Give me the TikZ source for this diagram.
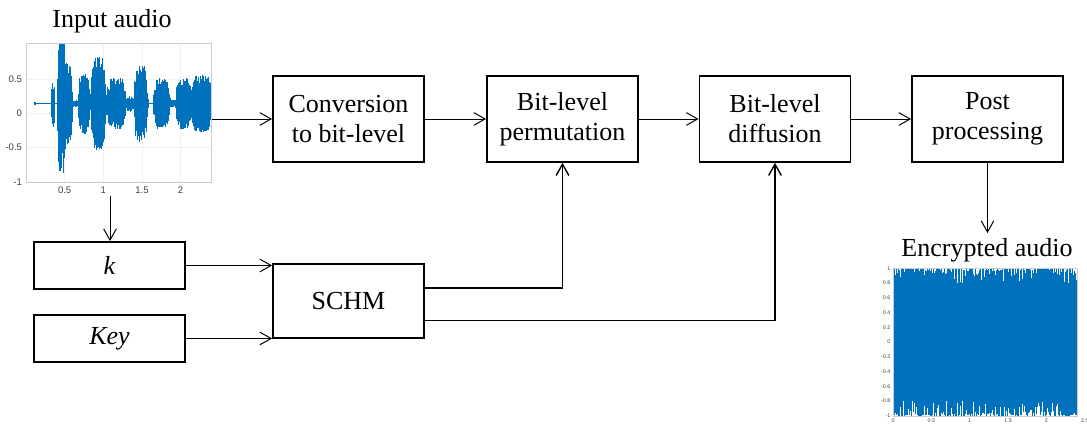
\documentclass[tikz,border=0pt]{standalone}
\usepackage{fontspec}
\setmainfont{Liberation Serif}
\newfontfamily\ticksfont{Liberation Sans}
\usetikzlibrary{arrows.meta,positioning}

\definecolor{wave}{RGB}{0,114,189}

\tikzset{
  block/.style={draw, line width=1.1pt, minimum width=3.78cm, minimum height=2.15cm,
    align=center, font=\fontsize{18.5}{21.3}\selectfont},
  keyblock/.style={block, minimum height=1.18cm},
  link/.style={-{Straight Barb[length=8pt,width=9pt]}, line width=0.7pt},
  keylink/.style={link, line width=1pt},
  title/.style={anchor=base, font=\fontsize{18.5}{21.3}\selectfont},
  grid/.style={gray!12, line width=0.3pt},
  axisbox/.style={gray!40, line width=0.4pt},
  ticklbl/.style={inner sep=1pt, text=black!75, font=\ticksfont\fontsize{6.8}{7}\selectfont},
  smalltick/.style={inner sep=0.6pt, text=black!75, font=\ticksfont\fontsize{3.8}{4}\selectfont},
}

\begin{document}
\begin{tikzpicture}[x=0.025cm, y=-0.025cm]
  \useasboundingbox (0,0) rectangle (1087,426);
  \pgfmathsetseed{11}

  % -- Input waveform --
  \node[title] (intitle) at (112,28) {Input audio};
  \begin{scope}[shift={(26,113.3)}, xscale=77.3, yscale=-68.7]
    \foreach \g in {0.5,1,1.5,2} \draw[grid] (\g,-1) -- (\g,1.02);
    \foreach \g in {-0.5,0,0.5} \draw[grid] (0,\g) -- (2.4,\g);
    \begin{scope}
      \clip (0,-1) rectangle (2.4,1.02);
      \draw[wave, line width=0.5pt] (0.11,0.14) -- (2.4,0.14);
      \foreach \a/\b/\h in {0.11/0.13/0.03, 0.33/0.37/0.35, 0.40/0.52/1.1, 0.50/0.60/0.6,
          0.60/0.67/0.05, 0.67/0.83/0.45, 0.83/1.04/0.68, 1.03/1.30/0.38, 1.30/1.39/0.12,
          1.39/1.58/0.56, 1.64/1.87/0.38, 1.87/1.93/0.06, 1.93/2.15/0.38, 2.12/2.42/0.42} {
        \pgfmathtruncatemacro\n{(\b-\a)*300}
        \foreach \i in {0,...,\n} {
          \pgfmathsetmacro\xx{\a+(\b-\a)*\i/\n}
          \pgfmathsetmacro\ss{1-min(1,abs(sin(180*\i/\n)))}
          \pgfmathsetmacro\ee{\h*(1-\ss*\ss*\ss)}
          \pgfmathsetmacro\lo{0.14-\ee*(0.5+0.5*rnd)}
          \pgfmathsetmacro\hi{0.14+\ee*(0.5+0.5*rnd)}
          \draw[wave, line width=0.5pt] (\xx,\lo) -- (\xx,\hi);
        }
      }
    \end{scope}
    \draw[axisbox] (0,-1) rectangle (2.4,1.02);
    \foreach \v in {0.5,0,-0.5,-1} \node[ticklbl, anchor=east] at (-0.03,\v) {\v};
    \foreach \v in {0.5,1,1.5,2} \node[ticklbl, anchor=north] at (\v,-1.04) {\v};
  \end{scope}

  % -- Encrypted waveform --
  \node[title] (enctitle) at (987,257) {Encrypted audio};
  \begin{scope}[shift={(893,342)}, xscale=76.7, yscale=-73.8]
    \fill[wave] (0,-0.8) rectangle (2.4,0.8);
    \foreach \i in {0,...,300} {
      \pgfmathsetmacro\xx{\i*0.008}
      \pgfmathsetmacro\hi{1-0.22*rnd^3}
      \pgfmathsetmacro\lo{-1+0.22*rnd^3}
      \draw[wave, line width=0.55pt] (\xx,0.79) -- (\xx,\hi);
      \draw[wave, line width=0.55pt] (\xx,-0.79) -- (\xx,\lo);
    }
    \draw[axisbox] (0,-1) rectangle (2.4,1);
    \foreach \v in {1,0.8,0.6,0.4,0.2,0,-0.2,-0.4,-0.6,-0.8,-1}
      \node[smalltick, anchor=east] at (-0.02,\v) {\v};
    \foreach \v in {0,0.5,1,1.5,2,2.5}
      \node[smalltick, anchor=north] at (\v,-1.02) {\v};
  \end{scope}

  % -- Processing chain --
  \node[block] (conv) at (348.5,119) {Conversion\\to bit-level};
  \node[block] (perm) at (562.5,119) {Bit-level\\permutation};
  \node[block] (diff) at (775,119) {Bit-level\\diffusion};
  \node[block] (post) at (987.5,119) {Post\\processing};

  % -- Key generation --
  \node[keyblock] (kbox) at (109.5,265.5) {\textit{k}};
  \node[keyblock] (keybox) at (109.5,338.5) {\textit{Key}};
  \node[block, minimum height=1.85cm] (schm) at (348.5,301) {SCHM};

  \coordinate (inright) at (212,119);
  \coordinate (inbottom) at (110,196);
  \coordinate (enctop) at (987.5,233);

  % Connectors
  \draw[link] (inright) -- (conv.west);
  \draw[link] (conv) -- (perm);
  \draw[link] (perm) -- (diff);
  \draw[link] (diff) -- (post);
  \draw[link] (post.south) -- (enctop);
  \draw[link] (inbottom) -- (inbottom |- kbox.north);
  \draw[link] (kbox.east) -- (kbox.east -| schm.west);
  \draw[link] (keybox.east) -- (keybox.east -| schm.west);
  \draw[keylink] ([yshift=0.32cm]schm.east) -| (perm.south);
  \draw[keylink] ([yshift=-0.485cm]schm.east) -| (diff.south);

\end{tikzpicture}
\end{document}
